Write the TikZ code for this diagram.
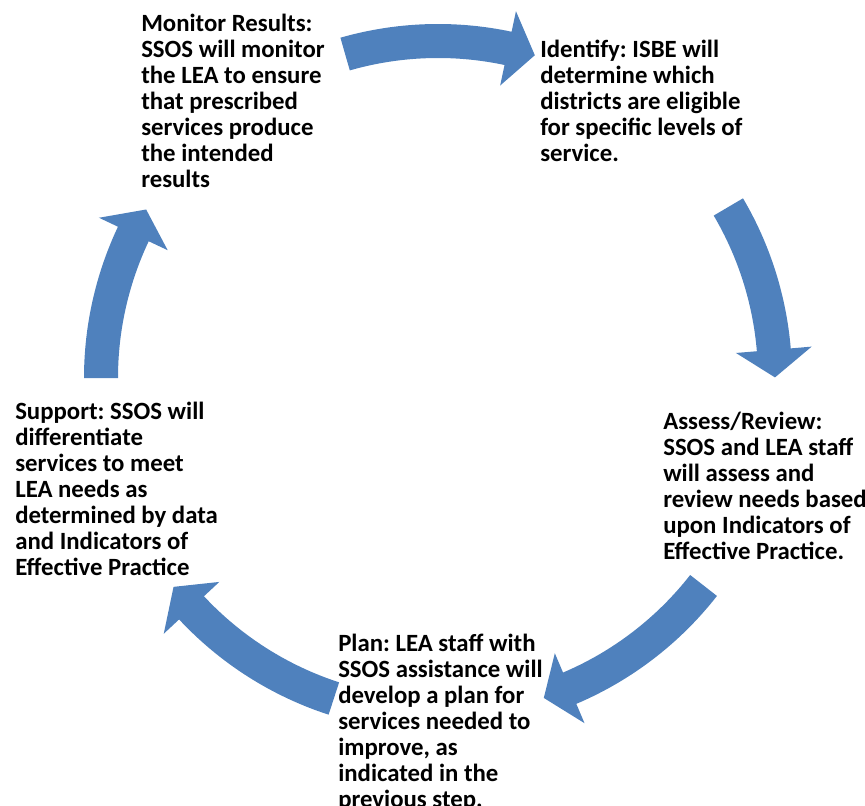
\documentclass[tikz,border=0pt]{standalone}
\usepackage{fontspec}
\setmainfont{Carlito}
\usepackage{xcolor}
\usepackage{tikz}
\usetikzlibrary{positioning}
\definecolor{cycleblue}{HTML}{4F81BD}
\frenchspacing

\begin{document}
\begin{tikzpicture}[
    x=0.75pt, y=0.75pt,
    stage/.style={anchor=north west, inner sep=0pt, align=left, font=\fontsize{18.6}{19.5}\selectfont\bfseries},
    cyclearrow/.style={fill=cycleblue, draw=none}
]
    \useasboundingbox (0,0) rectangle (865,-806);
    \coordinate (hub) at (438,-378);

    % Curved arrows (tail angle / head angle)
    \foreach \t/\b in {106/78, 30.5/4.8, -38/-67, -108/-137, 180/154.7} {
        \fill[cyclearrow, shift={(hub)}] (\t:354) arc[start angle=\t, end angle=\b, radius=354]
            -- (\b:375) -- (\b-4.7:337) -- (\b:299) -- (\b:320)
            arc[start angle=\b, end angle=\t, radius=320] -- cycle;
    }

    % Stages
    \node[stage] (monitor) at (141,-14) {Monitor Results:\\SSOS will monitor\\the LEA to ensure\\that prescribed\\services produce\\the intended\\results};
    \node[stage] (identify) at (540,-40) {Identify: ISBE will\\determine which\\districts are eligible\\for specific levels of\\service.};
    \node[stage] (assess) at (663,-412) {Assess/Review:\\SSOS and LEA staff\\will assess and\\review needs based\\upon Indicators of\\Effective Practice.};
    \node[stage] (plan) at (338,-634) {Plan: LEA staff with\\SSOS assistance will\\develop a plan for\\services needed to\\improve, as\\indicated in the\\previous step.};
    \node[stage] (support) at (15,-402) {Support: SSOS will\\differentiate\\services to meet\\LEA needs as\\determined by data\\and Indicators of\\Effective Practice};

\end{tikzpicture}
\end{document}
